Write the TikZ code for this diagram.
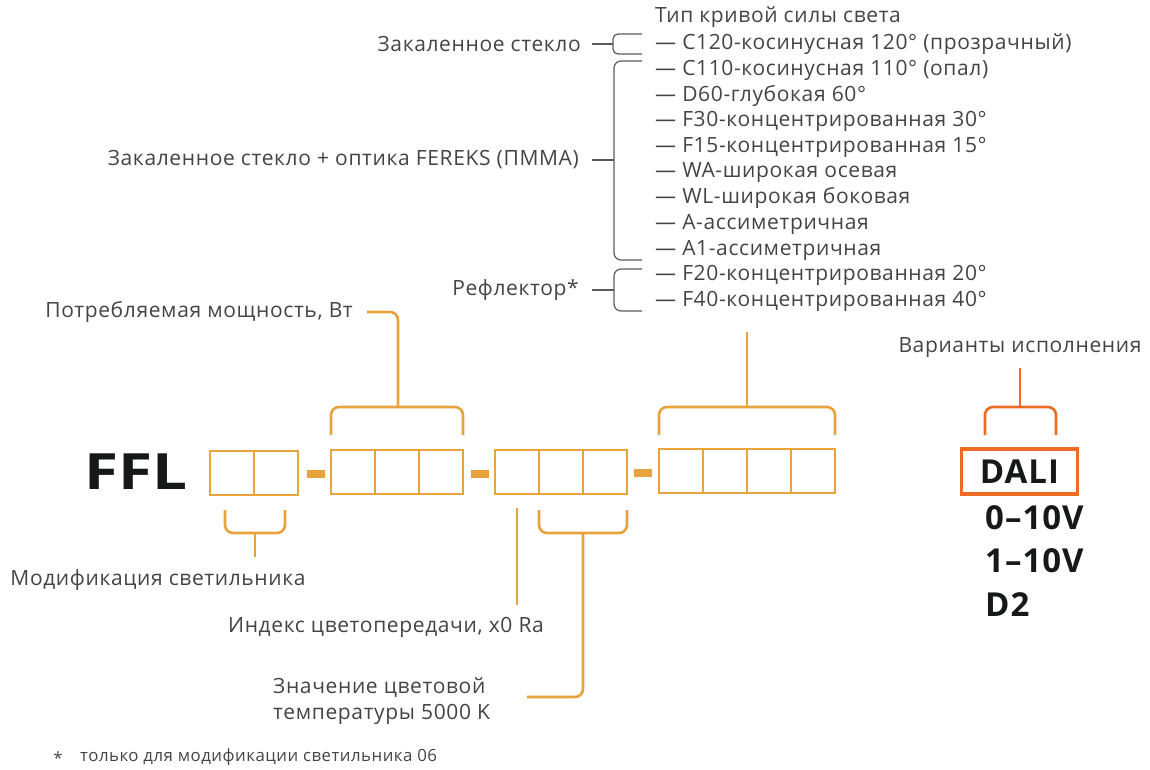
\documentclass[tikz,border=0pt]{standalone}
\usepackage{fontspec}
\setmainfont{Open Sans}[LetterSpace=3]
\newfontfamily\heavy{Open Sans}[FakeStretch=1.24]
\definecolor{orng}{HTML}{E8A33D}
\definecolor{redo}{HTML}{EE6B24}
\definecolor{txt}{HTML}{444444}
\definecolor{brc}{HTML}{5A5A5A}
\definecolor{blk}{HTML}{161819}
\begin{document}
\begin{tikzpicture}[x=1pt,y=-1pt,
  lbl/.style={inner sep=0pt, text=txt, font=\fontsize{21}{26}\selectfont},
  item/.style={lbl, anchor=west},
  cell/.style={draw=orng, line width=2.6pt, minimum width=44pt, minimum height=44pt, inner sep=0pt, outer sep=0pt},
  sep/.style={fill=orng, minimum width=18pt, minimum height=8pt, inner sep=0pt},
  ob/.style={draw=orng, line width=2.6pt, rounded corners=8pt},
  rb/.style={draw=redo, line width=2.6pt, rounded corners=8pt},
  gb/.style={draw=brc, line width=1.2pt, rounded corners=7pt},
  big/.style={inner sep=0pt, text=blk, font=\bfseries\fontsize{33}{36}\selectfont}]
\useasboundingbox (0,0) rectangle (1150,769);

% ---- list of light distribution types
\node[item] (title) at (655,17) {Тип кривой силы света};
\node[item] (i1) at (655,44) {— C120-косинусная 120° (прозрачный)};
\node[item] (i2) at (655,70) {— C110-косинусная 110° (опал)};
\node[item] (i3) at (655,96) {— D60-глубокая 60°};
\node[item] (i4) at (655,121) {— F30-концентрированная 30°};
\node[item] (i5) at (655,147) {— F15-концентрированная 15°};
\node[item] (i6) at (655,172) {— WA-широкая осевая};
\node[item] (i7) at (655,198) {— WL-широкая боковая};
\node[item] (i8) at (655,224) {— A-ассиметричная};
\node[item] (i9) at (655,250) {— A1-ассиметричная};
\node[item] (i10) at (655,275) {— F20-концентрированная 20°};
\node[item] (i11) at (655,301) {— F40-концентрированная 40°};

% ---- group labels with gray braces
\node[lbl, anchor=east] (g1) at (581,44) {Закаленное стекло};
\node[lbl, anchor=east] (g2) at (579,160) {Закаленное стекло + оптика FEREKS (ПММА)};
\node[lbl, anchor=east] (g3) at (579,290) {Рефлектор*};

\coordinate (b1t) at (642,34); \coordinate (b1m) at (613,44); \coordinate (b1b) at (642,54);
\draw[gb, rounded corners=5pt] (b1t) -| (b1m) |- (b1b);
\draw[gb] (592,44) -- (b1m);
\coordinate (b2t) at (642,61); \coordinate (b2m) at (614,160); \coordinate (b2b) at (642,260);
\draw[gb] (b2t) -| (b2m) |- (b2b);
\draw[gb] (592,160) -- (b2m);
\coordinate (b3t) at (642,269); \coordinate (b3m) at (614,290); \coordinate (b3b) at (642,311);
\draw[gb] (b3t) -| (b3m) |- (b3b);
\draw[gb] (592,290) -- (b3m);

% ---- code
\node[inner sep=0pt, text=blk, font=\heavy\bfseries\fontsize{50}{54}\selectfont, anchor=west] (ffl) at (84,472) {FFL};

\node[cell] (a1) at (232,473) {};
\node[cell] (a2) at (276,473) {};
\node[sep] (s1) at (316,474) {};
\node[cell] (b1) at (353,472) {};
\node[cell] (b2) at (397,472) {};
\node[cell] (b3) at (441,472) {};
\node[sep] (s2) at (480,474) {};
\node[cell] (c1) at (517,472) {};
\node[cell] (c2) at (561,472) {};
\node[cell] (c3) at (605,472) {};
\node[sep] (s3) at (643,473) {};
\node[cell] (d1) at (681,471) {};
\node[cell] (d2) at (725,471) {};
\node[cell] (d3) at (769,471) {};
\node[cell] (d4) at (813,471) {};

% ---- upper brackets
\node[lbl, anchor=east] (pw) at (353,312) {Потребляемая мощность, Вт};
\coordinate (pwe) at (367,312);
\coordinate (bl) at (331,435); \coordinate (bm) at (398,407); \coordinate (br) at (463,435);
\draw[ob] (bl) |- (bm) -| (br);
\draw[ob] (bm) |- (pwe);

\coordinate (dl) at (659,435); \coordinate (dm) at (747,407); \coordinate (dr) at (835,435);
\coordinate (dtop) at (747,332);
\draw[ob] (dl) |- (dm) -| (dr);
\draw[orng, line width=2.6pt] (dm) -- (dtop);

\node[lbl] (var) at (1020,348) {Варианты исполнения};
\coordinate (vl) at (985,435); \coordinate (vm) at (1020,407); \coordinate (vr) at (1056,435);
\coordinate (vtop) at (1020,368);
\draw[rb] (vl) |- (vm) -| (vr);
\draw[redo, line width=2.6pt] (vm) -- (vtop);

% ---- lower brackets
\node[lbl] (mod) at (158,580) {Модификация светильника};
\coordinate (ml) at (225,510); \coordinate (mm) at (255,533); \coordinate (mr) at (285,510);
\coordinate (mbot) at (255,557);
\draw[ob] (ml) |- (mm) -| (mr);
\draw[orng, line width=2.6pt] (mm) -- (mbot);

\node[lbl] (cri) at (386,627) {Индекс цветопередачи, x0 Ra};
\coordinate (ct) at (517,508); \coordinate (cb) at (517,605);
\draw[orng, line width=2.6pt] (ct) -- (cb);

\node[lbl, anchor=west, align=left] (cct) at (273,701) {Значение цветовой\\температуры 5000 K};
\coordinate (tl) at (539,510); \coordinate (tm) at (583,533); \coordinate (tr) at (627,510);
\coordinate (tend) at (527,697);
\draw[ob] (tl) |- (tm) -| (tr);
\draw[ob] (tm) |- (tend);

% ---- control options
\node[big, draw=redo, line width=3.6pt, minimum width=116pt, minimum height=45pt] (dali) at (1019.5,471.5) {DALI};
\node[big, anchor=west] (o1) at (985,518) {0–10V};
\node[big, anchor=west] (o2) at (985,561) {1–10V};
\node[big, anchor=west] (o3) at (985,605) {D2};

% ---- footnote
\node[lbl, font=\fontsize{16.8}{20}\selectfont] (star) at (58,758) {*};
\node[lbl, anchor=west, font=\fontsize{16.8}{20}\selectfont] (fn) at (80,757) {только для модификации светильника 06};
\end{tikzpicture}
\end{document}
